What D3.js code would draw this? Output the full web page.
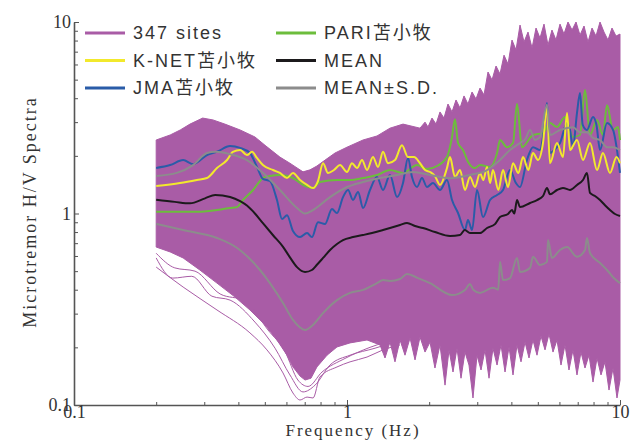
<!DOCTYPE html>
<html><head><meta charset="utf-8">
<script src="https://cdn.jsdelivr.net/npm/d3@7"></script>
<style>body{margin:0;background:#fff}svg{display:block}</style>
</head><body>
<script>
// ---------- data (frequency Hz, H/V ratio) ----------
const sitesUpper = [[0.2,2.42],[0.225,2.57],[0.245,2.73],[0.266,2.93],[0.296,3.15],[0.323,3.08],[0.357,2.93],[0.406,2.73],[0.46,2.51],[0.501,2.27],[0.568,1.97],[0.618,1.83],[0.656,1.73],[0.69,1.65],[0.732,1.69],[0.776,1.77],[0.831,1.9],[0.904,2.07],[1.0,2.22],[1.145,2.42],[1.288,2.54],[1.437,2.79],[1.604,2.93],[1.851,2.79],[1.931,3.0],[1.98,2.83],[2.048,3.15],[2.119,2.93],[2.191,3.39],[2.266,3.15],[2.344,3.73],[2.425,3.39],[2.508,3.915],[2.594,3.555],[2.683,4.11],[2.774,3.73],[2.871,4.31],[2.969,3.96],[3.071,4.52],[3.176,4.16],[3.285,5.48],[3.398,4.98],[3.515,5.89],[3.635,5.35],[3.76,6.71],[3.889,6.03],[4.022,8.05],[4.16,7.14],[4.303,9.64],[4.451,7.86],[4.603,8.86],[4.763,7.31],[4.925,9.3],[5.093,8.24],[5.268,9.75],[5.448,7.57],[5.634,9.08],[5.828,8.05],[6.029,9.75],[6.235,8.65],[6.449,10],[6.674,9.08],[6.901,10],[7.137,8.54],[7.383,9.53],[7.635,7.86],[7.898,9.3],[8.168,8.44],[8.448,10],[8.738,8.86],[9.037,8.05],[9.347,9.3],[9.669,8.44],[10,8.65]];
const sitesLower = [[0.2,0.668],[0.225,0.63],[0.251,0.586],[0.289,0.507],[0.334,0.433],[0.389,0.366],[0.441,0.3135],[0.501,0.262],[0.554,0.2185],[0.603,0.182],[0.634,0.158],[0.673,0.1416],[0.702,0.135],[0.738,0.138],[0.776,0.158],[0.845,0.182],[0.919,0.201],[1.026,0.211],[1.184,0.2185],[1.321,0.206],[1.378,0.176],[1.437,0.213],[1.499,0.168],[1.564,0.2185],[1.631,0.182],[1.702,0.224],[1.775,0.172],[1.851,0.2265],[1.931,0.189],[2.014,0.213],[2.1,0.156],[2.191,0.206],[2.286,0.127],[2.364,0.194],[2.445,0.1487],[2.529,0.198],[2.616,0.138],[2.705,0.189],[2.798,0.1617],[2.894,0.1088],[2.994,0.182],[3.097,0.1523],[3.203,0.194],[3.313,0.138],[3.425,0.198],[3.545,0.1617],[3.666,0.206],[3.792,0.1487],[3.922,0.201],[4.056,0.1435],[4.195,0.206],[4.339,0.168],[4.489,0.213],[4.642,0.176],[4.8,0.2185],[4.966,0.182],[5.136,0.229],[5.313,0.194],[5.495,0.235],[5.683,0.189],[5.877,0.2185],[6.08,0.1617],[6.288,0.206],[6.503,0.1523],[6.726,0.194],[6.958,0.1435],[7.196,0.189],[7.443,0.156],[7.699,0.182],[7.964,0.1318],[8.238,0.176],[8.52,0.1435],[8.81,0.168],[9.114,0.1197],[9.428,0.156],[9.75,0.1088],[10,0.135]];
const siteLowA = [[0.2,0.525],[0.251,0.413],[0.334,0.3135],[0.441,0.238],[0.509,0.194],[0.583,0.147],[0.634,0.1155],[0.673,0.1062],[0.714,0.11],[0.751,0.1088],[0.796,0.14],[0.919,0.158],[1.026,0.168],[1.184,0.178],[1.355,0.194],[1.564,0.206]];
const siteLowB = [[0.2,0.586],[0.23,0.46],[0.27,0.47],[0.32,0.37],[0.373,0.353],[0.46,0.271],[0.545,0.198],[0.618,0.1435],[0.69,0.117],[0.764,0.127],[0.8665,0.1617],[1.026,0.182],[1.267,0.198],[1.564,0.2185]];
const siteLowC = [[0.2,0.62],[0.234,0.52],[0.2775,0.5],[0.343,0.38],[0.423,0.35],[0.5135,0.2465],[0.593,0.19],[0.661,0.135],[0.72,0.125],[0.81,0.1487],[0.983,0.175],[1.214,0.2],[1.564,0.223]];
const pari = [[0.2,1.02],[0.282,1.02],[0.373,1.068],[0.3955,1.08],[0.416,1.176],[0.453,1.327],[0.492,1.532],[0.522,1.569],[0.568,1.588],[0.634,1.532],[0.69,1.41],[0.751,1.359],[0.796,1.46],[0.919,1.496],[1.026,1.496],[1.145,1.532],[1.288,1.588],[1.437,1.687],[1.604,1.628],[1.805,1.79],[1.963,1.707],[2.137,1.77],[2.324,1.97],[2.425,2.51],[2.486,3.11],[2.551,2.336],[2.66,2.146],[2.774,1.865],[2.944,1.727],[3.071,1.79],[3.341,1.75],[3.545,2.07],[3.635,2.42],[3.855,2.22],[4.056,2.336],[4.195,3.73],[4.375,2.22],[4.8,2.57],[5.224,2.63],[5.541,2.97],[5.877,2.83],[6.288,3.19],[6.726,2.51],[7.137,2.57],[7.443,4.42],[7.765,2.57],[8.238,3.078],[8.66,2.57],[8.96,3.68],[9.428,2.73],[9.833,2.83],[10,2.42]];
const jma = [[0.2,1.73],[0.225,1.79],[0.251,1.9],[0.273,1.81],[0.307,2.02],[0.334,2.1],[0.373,2.25],[0.406,2.2],[0.441,2.07],[0.468,1.75],[0.492,1.515],[0.522,1.478],[0.554,1.176],[0.578,0.936],[0.603,0.98],[0.634,0.81],[0.673,0.753],[0.714,0.791],[0.744,0.753],[0.783,0.9],[0.831,0.882],[0.881,1.055],[0.919,1.006],[0.967,1.218],[1.009,1.327],[1.052,1.176],[1.098,1.296],[1.145,1.068],[1.214,1.327],[1.288,1.55],[1.355,1.327],[1.437,1.588],[1.525,1.218],[1.604,1.443],[1.673,1.95],[1.73,1.55],[1.805,1.375],[1.882,1.532],[1.963,1.375],[2.065,1.443],[2.191,1.327],[2.324,1.496],[2.425,1.176],[2.551,1.006],[2.705,0.82],[2.774,0.925],[2.871,0.82],[2.994,1.327],[3.149,0.958],[3.341,1.176],[3.545,1.25],[3.728,1.327],[3.955,1.687],[4.15,1.45],[4.303,1.375],[4.563,1.903],[4.8,2.22],[5.093,2.146],[5.224,2.51],[5.403,3.78],[5.541,2.07],[5.877,2.22],[6.029,2.336],[6.397,2.97],[6.559,2.73],[6.726,2.22],[6.958,3.35],[7.137,4.26],[7.3,2.9],[7.569,2.73],[7.964,3.19],[8.2,2.9],[8.448,2.146],[8.96,2.97],[9.428,2.73],[9.833,1.97],[10,1.63]];
const knet = [[0.2,1.39],[0.2445,1.443],[0.282,1.496],[0.307,1.532],[0.334,1.727],[0.3635,1.903],[0.382,2.1],[0.406,2.146],[0.43,2.02],[0.449,2.1],[0.468,1.95],[0.492,1.79],[0.536,1.687],[0.568,1.628],[0.603,1.532],[0.634,1.628],[0.673,1.496],[0.714,1.41],[0.751,1.359],[0.783,1.478],[0.817,1.83],[0.852,1.628],[0.896,1.687],[0.943,1.79],[1.0,1.647],[1.043,1.83],[1.088,1.727],[1.135,1.903],[1.184,1.687],[1.245,1.97],[1.299,1.75],[1.355,2.1],[1.413,1.83],[1.499,1.903],[1.59,2.27],[1.673,1.97],[1.76,1.97],[1.851,1.83],[1.931,1.687],[2.014,1.647],[2.1,1.569],[2.191,1.41],[2.324,1.727],[2.384,1.97],[2.486,1.55],[2.594,1.687],[2.705,1.327],[2.822,1.55],[2.944,1.375],[3.071,1.628],[3.157,1.496],[3.258,1.75],[3.341,1.443],[3.425,1.687],[3.585,1.327],[3.728,1.687],[3.889,1.375],[4.056,1.83],[4.243,1.628],[4.414,1.97],[4.616,1.687],[4.8,2.07],[5.008,1.903],[5.224,2.336],[5.4,3.6],[5.541,1.83],[5.877,2.336],[6.182,1.97],[6.397,3.35],[6.559,2.146],[6.958,2.42],[7.318,1.903],[7.765,2.336],[8.238,1.687],[8.66,2.07],[9.191,1.628],[9.71,1.97],[10,1.83]];
const meanCurve = [[0.2,1.18],[0.234,1.15],[0.266,1.13],[0.302,1.2],[0.329,1.25],[0.373,1.22],[0.406,1.16],[0.43,1.1],[0.46,1.0],[0.492,0.89],[0.536,0.77],[0.583,0.67],[0.618,0.59],[0.656,0.525],[0.702,0.495],[0.744,0.507],[0.776,0.54],[0.817,0.586],[0.867,0.645],[0.919,0.693],[0.967,0.727],[1.052,0.753],[1.145,0.772],[1.235,0.791],[1.355,0.82],[1.437,0.84],[1.564,0.871],[1.659,0.893],[1.775,0.86],[1.898,0.84],[2.1,0.8],[2.384,0.763],[2.594,0.772],[2.7,0.82],[2.822,0.79],[3.071,0.79],[3.258,0.84],[3.484,0.88],[3.635,0.958],[3.889,0.994],[4.02,1.043],[4.1,1.0],[4.195,1.176],[4.303,1.08],[4.682,1.135],[4.966,1.176],[5.224,1.234],[5.403,1.359],[5.541,1.26],[5.877,1.327],[6.182,1.36],[6.559,1.327],[6.958,1.41],[7.318,1.496],[7.569,1.628],[7.765,1.28],[8.098,1.234],[8.448,1.176],[8.81,1.105],[9.191,1.043],[9.588,0.994],[10,0.97]];
const meanPlusSD = [[0.2,1.57],[0.238,1.63],[0.273,1.79],[0.307,2.07],[0.329,2.1],[0.373,2.04],[0.43,1.9],[0.492,1.63],[0.568,1.327],[0.656,1.068],[0.702,1.0],[0.751,1.043],[0.867,1.218],[1.0,1.375],[1.145,1.46],[1.321,1.532],[1.525,1.588],[1.745,1.647],[2.014,1.59],[2.384,1.53],[2.822,1.59],[3.258,1.687],[3.635,1.903],[3.955,2.146],[4.303,2.336],[4.5,2.45],[4.682,2.73],[4.883,2.42],[5.093,2.51],[5.403,3.7],[5.541,2.57],[6.029,2.73],[6.726,2.82],[7.137,2.66],[7.569,2.66],[7.964,2.48],[8.448,2.42],[8.96,2.22],[9.428,2.22],[10,2.146]];
const meanMinusSD = [[0.2,0.882],[0.251,0.82],[0.334,0.745],[0.396,0.66],[0.441,0.579],[0.48,0.507],[0.522,0.433],[0.583,0.341],[0.634,0.278],[0.702,0.2465],[0.751,0.262],[0.817,0.302],[0.919,0.353],[1.026,0.385],[1.145,0.399],[1.288,0.433],[1.355,0.449],[1.437,0.444],[1.564,0.455],[1.659,0.483],[1.82,0.46],[2.014,0.433],[2.425,0.375],[2.705,0.399],[2.822,0.428],[2.9,0.4],[3.071,0.385],[3.425,0.41],[3.58,0.4],[3.635,0.559],[3.728,0.449],[3.955,0.46],[4.195,0.586],[4.303,0.495],[4.682,0.52],[4.8,0.594],[5.093,0.538],[5.403,0.559],[5.448,0.727],[5.634,0.586],[6.029,0.645],[6.397,0.668],[6.958,0.594],[7.443,0.645],[7.569,0.745],[7.765,0.622],[8.448,0.552],[8.96,0.507],[9.428,0.465],[10,0.433]];
const xMajorTicks = [0.1, 1, 10];
const xTickLabels = ["0.1", "1", "10"];
const xMinorTicks = [0.2,0.3,0.4,0.5,0.6,0.7,0.8,0.9,2,3,4,5,6,7,8,9];
const yMajorTicks = [0.1, 1, 10];
const yTickLabels = ["0.1", "1", "10"];
const yMinorTicks = [0.2,0.3,0.4,0.5,0.6,0.7,0.8,0.9,2,3,4,5,6,7,8,9];
const legendLabels = ["347 sites","K-NET苫小牧","JMA苫小牧","PARI苫小牧","MEAN","MEAN±S.D."];

// ---------- drawing ----------
const W = 641, H = 441;
const C = {purple:"#a95ca6", yellow:"#f2e92c", blue:"#2a5ca8", green:"#6cbd3c", black:"#1c1a1c", gray:"#8c8c8c", axis:"#555", text:"#333"};
const svg = d3.select("body").append("svg").attr("width", W).attr("height", H);
const x = d3.scaleLog().domain([0.1, 10]).range([74, 620]);
const y = d3.scaleLog().domain([0.1, 10]).range([405, 22]);

svg.append("clipPath").attr("id", "clip").append("rect")
  .attr("x", 74).attr("y", 22).attr("width", 547).attr("height", 383);
const plot = svg.append("g").attr("clip-path", "url(#clip)");

const lin = d3.line().x(d => x(d[0])).y(d => y(d[1]));
const smooth = d3.line().x(d => x(d[0])).y(d => y(d[1])).curve(d3.curveMonotoneX);

// envelope of the 347 site spectra
const band = sitesUpper.concat(sitesLower.slice().reverse());
plot.append("path").attr("d", lin(band) + "Z")
  .attr("fill", C.purple).attr("stroke", C.purple).attr("stroke-width", 1).attr("stroke-linejoin", "miter");
[siteLowA, siteLowB, siteLowC].forEach(s =>
  plot.append("path").attr("d", smooth(s)).attr("fill", "none")
    .attr("stroke", C.purple).attr("stroke-width", 1));

const series = [
  {d: pari, c: C.green},
  {d: jma, c: C.blue},
  {d: knet, c: C.yellow},
  {d: meanPlusSD, c: C.gray},
  {d: meanMinusSD, c: C.gray},
  {d: meanCurve, c: C.black}
];
series.forEach(s => plot.append("path").attr("d", smooth(s.d))
  .attr("fill", "none").attr("stroke", s.c).attr("stroke-width", 2)
  .attr("stroke-linejoin", "round"));

// axes
const serif = "'Liberation Serif','Times New Roman',serif";
function styleAxis(g) {
  g.selectAll(".domain").attr("stroke", C.axis).attr("stroke-width", 1.6);
  g.selectAll(".tick line").attr("stroke", C.axis).attr("stroke-width", 1);
  g.selectAll("text").attr("font-family", serif).attr("font-size", 18).attr("fill", C.text);
}
const gx = svg.append("g").attr("transform", "translate(0,405)");
gx.call(d3.axisBottom(x).tickValues(xMinorTicks).tickSize(-3).tickSizeOuter(0).tickFormat(""));
gx.append("g").call(d3.axisBottom(x).tickValues(xMajorTicks).tickSize(-5).tickSizeOuter(0).tickPadding(0)
  .tickFormat((d, i) => xTickLabels[i])).select(".domain").remove();
styleAxis(gx);

const gy = svg.append("g").attr("transform", "translate(74,0)");
gy.call(d3.axisLeft(y).tickValues(yMinorTicks).tickSize(-4).tickSizeOuter(0).tickFormat(""));
gy.append("g").call(d3.axisLeft(y).tickValues(yMajorTicks).tickSize(-5).tickSizeOuter(0).tickPadding(3)
  .tickFormat((d, i) => yTickLabels[i])).select(".domain").remove();
styleAxis(gy);

// axis titles
svg.append("text").attr("x", 353).attr("y", 436).attr("text-anchor", "middle")
  .attr("font-family", serif).attr("font-size", 17).attr("letter-spacing", 2).attr("fill", C.text)
  .text("Frequency (Hz)");
svg.append("text").attr("transform", "translate(36,212) rotate(-90)").attr("text-anchor", "middle")
  .attr("font-family", serif).attr("font-size", 18).attr("letter-spacing", 2).attr("fill", C.text)
  .text("Microtremor H/V Spectra");

// legend
const legendColors = [C.purple, C.yellow, C.blue, C.green, C.black, C.gray];
const sans = "'Liberation Sans',Arial,'Noto Sans CJK JP',sans-serif";
legendLabels.forEach((t, i) => {
  const col = Math.floor(i / 3), row = i % 3;
  const lx = col === 0 ? 85 : 276, ly = 33 + row * 27.5;
  svg.append("line").attr("x1", lx).attr("x2", lx + 40).attr("y1", ly).attr("y2", ly)
    .attr("stroke", legendColors[i]).attr("stroke-width", 3);
  svg.append("text").attr("x", lx + 48).attr("y", ly).attr("dy", "0.36em")
    .attr("font-family", sans).attr("font-size", 18).attr("letter-spacing", 2).attr("fill", C.text)
    .text(t);
});
</script>
</body></html>
